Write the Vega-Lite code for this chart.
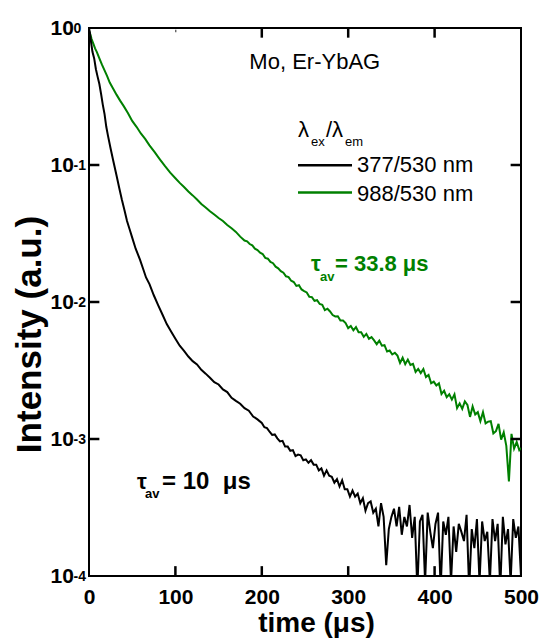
{
"$schema": "https://vega.github.io/schema/vega-lite/v6.json",
"width": 432, "height": 548,
"autosize": {"type": "none"},
"padding": {"left": 89, "top": 28, "right": 18, "bottom": 64},
"background": "white",
"config": {"view": {"stroke": "black", "strokeWidth": 2}, "font": "Liberation Sans",
  "axis": {"grid": false, "domain": false, "tickColor": "black", "labelColor": "black", "titleColor": "black"}},
"data": {"values": [{}]},
"datasets": {
"ex377": [
{"t":0,"v":1},{"t":1,"v":0.93},{"t":2,"v":0.82},{"t":3,"v":0.74},{"t":4,"v":0.67},{"t":6,"v":0.6},{"t":8,"v":0.5},{"t":10,"v":0.44},{"t":12,"v":0.39},{"t":14,"v":0.33},{"t":16,"v":0.275},{"t":18,"v":0.235},{"t":20,"v":0.19},{"t":22,"v":0.163},{"t":25,"v":0.132},{"t":28,"v":0.108},{"t":32,"v":0.083},{"t":35,"v":0.068},{"t":38,"v":0.056},{"t":41,"v":0.047},{"t":44,"v":0.039},{"t":47,"v":0.034},{"t":50,"v":0.0295},{"t":54,"v":0.0245},{"t":59,"v":0.0204},{"t":63,"v":0.0172},{"t":66,"v":0.0151},{"t":70,"v":0.0135},{"t":75,"v":0.0112},{"t":80,"v":0.0095},{"t":85,"v":0.0081},{"t":90,"v":0.0069},{"t":95,"v":0.0061},{"t":100,"v":0.0054},{"t":105,"v":0.0048},{"t":110,"v":0.0044},{"t":115,"v":0.004},{"t":120,"v":0.0037},{"t":125,"v":0.0035},{"t":130,"v":0.0032},{"t":135,"v":0.003},{"t":140,"v":0.0028},{"t":145,"v":0.0026},{"t":150,"v":0.0025},{"t":155,"v":0.0023},{"t":160,"v":0.0022},{"t":165,"v":0.002},{"t":170,"v":0.0019},{"t":175,"v":0.00181},{"t":180,"v":0.00168},{"t":185,"v":0.00161},{"t":190,"v":0.00146},{"t":195,"v":0.00139},
{"t":200,"v":1.31e-3},{"t":203,"v":1.22e-3},{"t":206,"v":1.2e-3},{"t":209,"v":1.13e-3},{"t":212,"v":1.07e-3},{"t":215,"v":1.08e-3},{"t":218,"v":1.01e-3},{"t":221,"v":9.6e-4},{"t":224,"v":9.7e-4},{"t":227,"v":8.8e-4},{"t":230,"v":8.8e-4},{"t":233,"v":8.2e-4},{"t":236,"v":8.3e-4},{"t":239,"v":7.5e-4},{"t":242,"v":7.7e-4},{"t":245,"v":7.6e-4},{"t":248,"v":7.0e-4},{"t":251,"v":7.1e-4},{"t":254,"v":6.7e-4},{"t":257,"v":7.0e-4},{"t":260,"v":6.5e-4},{"t":263,"v":6.5e-4},{"t":266,"v":5.9e-4},{"t":269,"v":6.1e-4},{"t":272,"v":5.4e-4},{"t":275,"v":5.9e-4},{"t":278,"v":5.4e-4},{"t":281,"v":5.3e-4},{"t":284,"v":4.8e-4},{"t":287,"v":5.1e-4},{"t":290,"v":4.5e-4},{"t":293,"v":5.0e-4},{"t":296,"v":4.3e-4},{"t":299,"v":4.3e-4},{"t":302,"v":3.8e-4},{"t":305,"v":4.2e-4},{"t":308,"v":3.8e-4},{"t":311,"v":4.0e-4},{"t":314,"v":3.4e-4},{"t":317,"v":3.7e-4},{"t":320,"v":3.0e-4},{"t":323,"v":3.4e-4},{"t":326,"v":3.5e-4},{"t":329,"v":2.9e-4},{"t":332,"v":3.1e-4},{"t":335,"v":2.3e-4},{"t":338,"v":3.4e-4},{"t":341,"v":2.7e-4},{"t":344,"v":1.2e-4},{"t":347,"v":2.2e-4},{"t":350,"v":2.7e-4},{"t":353,"v":3.1e-4},{"t":356,"v":2.3e-4},{"t":359,"v":3.2e-4},{"t":362,"v":2.0e-4},{"t":365,"v":2.7e-4},{"t":368,"v":2.3e-4},{"t":371,"v":3.3e-4},{"t":374,"v":1.9e-4},{"t":377,"v":2.7e-4},{"t":380,"v":8e-5},{"t":383,"v":2.5e-4},{"t":386,"v":2.8e-4},{"t":389,"v":9e-5},{"t":392,"v":2.9e-4},{"t":395,"v":2.1e-4},{"t":398,"v":1.6e-4},{"t":401,"v":2.4e-4},{"t":404,"v":2.9e-4},{"t":407,"v":8e-5},{"t":410,"v":2.5e-4},{"t":413,"v":2.0e-4},{"t":416,"v":2.7e-4},{"t":419,"v":9e-5},{"t":422,"v":2.3e-4},{"t":425,"v":1.5e-4},{"t":428,"v":2.4e-4},{"t":431,"v":2.1e-4},{"t":434,"v":1.8e-4},{"t":437,"v":2.8e-4},{"t":440,"v":8e-5},{"t":443,"v":2.2e-4},{"t":446,"v":1.6e-4},{"t":449,"v":2.6e-4},{"t":452,"v":9e-5},{"t":455,"v":2.5e-4},{"t":458,"v":1.8e-4},{"t":461,"v":2.1e-4},{"t":464,"v":9e-5},{"t":467,"v":2.6e-4},{"t":470,"v":1.8e-4},{"t":473,"v":2.4e-4},{"t":476,"v":8e-5},{"t":479,"v":2.7e-4},{"t":482,"v":1.7e-4},{"t":485,"v":2.2e-4},{"t":488,"v":9e-5},{"t":491,"v":2.6e-4},{"t":494,"v":1.9e-4},{"t":497,"v":2.3e-4},{"t":500,"v":1.0e-4}
],
"ex988": [
{"t":0,"v":0.95},{"t":1,"v":0.92},{"t":3,"v":0.83},{"t":5,"v":0.77},{"t":7,"v":0.71},{"t":9,"v":0.67},{"t":12,"v":0.6},{"t":15,"v":0.54},{"t":18,"v":0.49},{"t":21,"v":0.445},{"t":24,"v":0.4},{"t":28,"v":0.36},{"t":32,"v":0.325},{"t":36,"v":0.295},{"t":40,"v":0.27},{"t":45,"v":0.24},{"t":50,"v":0.21},{"t":55,"v":0.19},{"t":60,"v":0.17},{"t":65,"v":0.155},{"t":70,"v":0.139},{"t":76,"v":0.124},{"t":82,"v":0.11},{"t":88,"v":0.098},{"t":94,"v":0.088},{"t":100,"v":0.08},{"t":105,"v":0.074},{"t":110,"v":0.069},{"t":115,"v":0.064},{"t":120,"v":0.06},{"t":125,"v":0.056},{"t":130,"v":0.052},{"t":135,"v":0.049},{"t":140,"v":0.046},{"t":145,"v":0.0435},{"t":150,"v":0.041},{"t":155,"v":0.039},{"t":160,"v":0.0365},{"t":165,"v":0.0345},{"t":170,"v":0.0325},{"t":175,"v":0.03},
{"t":180,"v":2.81e-2},{"t":183,"v":2.77e-2},{"t":186,"v":2.65e-2},{"t":189,"v":2.59e-2},{"t":192,"v":2.45e-2},{"t":195,"v":2.39e-2},{"t":198,"v":2.29e-2},{"t":201,"v":2.24e-2},{"t":204,"v":2.1e-2},{"t":207,"v":2.07e-2},{"t":210,"v":1.96e-2},{"t":213,"v":1.92e-2},{"t":216,"v":1.81e-2},{"t":219,"v":1.76e-2},{"t":222,"v":1.68e-2},{"t":225,"v":1.635e-2},{"t":228,"v":1.54e-2},{"t":231,"v":1.52e-2},{"t":234,"v":1.43e-2},{"t":237,"v":1.4e-2},{"t":240,"v":1.31e-2},{"t":243,"v":1.325e-2},{"t":246,"v":1.235e-2},{"t":249,"v":1.2e-2},{"t":252,"v":1.174e-2},{"t":255,"v":1.093e-2},{"t":258,"v":1.086e-2},{"t":261,"v":1.021e-2},{"t":264,"v":1.031e-2},{"t":267,"v":9.67e-3},{"t":270,"v":9.54e-3},{"t":273,"v":8.73e-3},{"t":276,"v":8.93e-3},{"t":279,"v":8.53e-3},{"t":282,"v":8.03e-3},{"t":285,"v":7.85e-3},{"t":288,"v":7.88e-3},{"t":291,"v":7.34e-3},{"t":294,"v":7.33e-3},{"t":297,"v":7.02e-3},{"t":300,"v":6.45e-3},{"t":303,"v":6.68e-3},{"t":306,"v":6.21e-3},{"t":309,"v":6.56e-3},{"t":312,"v":6.01e-3},{"t":315,"v":6.01e-3},{"t":318,"v":5.57e-3},{"t":321,"v":5.85e-3},{"t":324,"v":5.39e-3},{"t":327,"v":5.54e-3},{"t":330,"v":5.25e-3},{"t":333,"v":4.92e-3},{"t":336,"v":5.23e-3},{"t":339,"v":4.8e-3},{"t":342,"v":4.84e-3},{"t":345,"v":4.35e-3},{"t":348,"v":4.42e-3},{"t":351,"v":4.14e-3},{"t":354,"v":4.26e-3},{"t":357,"v":4.06e-3},{"t":360,"v":3.59e-3},{"t":363,"v":3.92e-3},{"t":366,"v":3.52e-3},{"t":369,"v":3.8e-3},{"t":372,"v":3.47e-3},{"t":375,"v":3.54e-3},{"t":378,"v":3.09e-3},{"t":381,"v":3.25e-3},{"t":384,"v":3.03e-3},{"t":387,"v":3.24e-3},{"t":390,"v":2.83e-3},{"t":393,"v":2.93e-3},{"t":396,"v":2.55e-3},{"t":399,"v":2.62e-3},{"t":402,"v":2.46e-3},{"t":405,"v":2.55e-3},{"t":408,"v":2.13e-3},{"t":411,"v":2.25e-3},{"t":414,"v":2.02e-3},{"t":417,"v":2.12e-3},{"t":420,"v":1.94e-3},{"t":423,"v":2.12e-3},{"t":426,"v":1.68e-3},{"t":429,"v":1.82e-3},{"t":432,"v":1.66e-3},{"t":435,"v":1.88e-3},{"t":438,"v":1.77e-3},{"t":441,"v":1.45e-3},{"t":444,"v":1.73e-3},{"t":447,"v":1.51e-3},{"t":450,"v":1.57e-3},{"t":453,"v":1.35e-3},{"t":456,"v":1.57e-3},{"t":459,"v":1.3e-3},{"t":462,"v":1.34e-3},{"t":465,"v":1.35e-3},{"t":468,"v":1.1e-3},{"t":471,"v":1.14e-3},{"t":474,"v":1.29e-3},{"t":477,"v":9.9e-4},{"t":480,"v":1.12e-3},{"t":483,"v":8.9e-4},{"t":486,"v":4.9e-4},{"t":489,"v":1.09e-3},{"t":492,"v":8.5e-4},{"t":495,"v":9.5e-4},{"t":498,"v":8.3e-4},{"t":500,"v":8.6e-4}
]
},
"layer": [
{"data": {"name": "ex988"}, "mark": {"type": "line", "color": "#008000", "strokeWidth": 2, "clip": true},
 "encoding": {
  "x": {"field": "t", "type": "quantitative", "scale": {"domain": [0, 500], "nice": false, "zero": false},
    "axis": {"orient": "bottom", "values": [0,100,200,300,400,500], "ticks": false, "labelFontSize": 21, "labelFontWeight": "bold", "labelPadding": 10, "labelFlush": false, "format": "d",
      "title": "time (μs)", "titleFontSize": 28, "titleFontWeight": "bold", "titleX": 227, "titleY": 55, "titleAlign": "center", "titleBaseline": "alphabetic"}},
  "y": {"field": "v", "type": "quantitative", "scale": {"type": "log", "domain": [0.0001, 1], "nice": false},
    "axis": {"orient": "left", "values": [1,0.1,0.01,0.001,0.0001], "ticks": false, "labelExpr": "'10'", "labelFontSize": 21, "labelFontWeight": "bold", "labelAlign": "left", "labelBaseline": "middle", "labelPadding": 39,
      "title": "Intensity (a.u.)", "titleFontSize": 35, "titleFontWeight": "bold", "titleAngle": 270, "titleX": -60, "titleY": 306, "titleAlign": "center", "titleBaseline": "middle"}}
 }},
{"data": {"name": "ex377"}, "mark": {"type": "line", "color": "black", "strokeWidth": 2, "clip": true},
 "encoding": {
  "x": {"field": "t", "type": "quantitative", "scale": {"domain": [0, 500], "nice": false, "zero": false}, "axis": null},
  "y": {"field": "v", "type": "quantitative", "scale": {"type": "log", "domain": [0.0001, 1], "nice": false},
    "axis": {"orient": "left", "values": [1,0.1,0.01,0.001,0.0001], "ticks": false, "labelExpr": "'' + round(log(datum.value)/LN10)", "labelFontSize": 14, "labelFontWeight": "bold", "labelAlign": "left", "labelBaseline": "middle", "labelPadding": 16, "labelDy": -6, "title": null}}
 }},
{"mark": {"type": "rule", "color": "black", "strokeWidth": 2.5},
 "encoding": {"x": {"datum": 241.9, "type": "quantitative", "axis": null, "scale": {"domain": [0, 500], "nice": false, "zero": false}}, "x2": {"datum": 304.4}, "y": {"datum": 0.0997, "type": "quantitative", "axis": null, "scale": {"type": "log", "domain": [0.0001, 1], "nice": false}}}},
{"mark": {"type": "rule", "color": "#008000", "strokeWidth": 2.5},
 "encoding": {"x": {"datum": 241.9, "type": "quantitative", "axis": null, "scale": {"domain": [0, 500], "nice": false, "zero": false}}, "x2": {"datum": 304.4}, "y": {"datum": 0.063, "type": "quantitative", "axis": null, "scale": {"type": "log", "domain": [0.0001, 1], "nice": false}}}},
{"mark": {"type": "rule", "color": "black", "strokeWidth": 2.5},
 "encoding": {"x": {"datum": 100, "type": "quantitative", "axis": null, "scale": {"domain": [0, 500], "nice": false, "zero": false}}, "x2": {"datum": 101}, "y": {"datum": 0.95, "type": "quantitative", "axis": null, "scale": {"type": "log", "domain": [0.0001, 1], "nice": false}}}},
{"mark": {"type": "rule", "color": "black", "strokeWidth": 2.5},
 "encoding": {"x": {"datum": 200, "type": "quantitative", "axis": null, "scale": {"domain": [0, 500], "nice": false, "zero": false}}, "y": {"datum": 1, "type": "quantitative", "axis": null, "scale": {"type": "log", "domain": [0.0001, 1], "nice": false}}, "y2": {"datum": 0.85}}},
{"mark": {"type": "rule", "color": "black", "strokeWidth": 2.5},
 "encoding": {"x": {"datum": 300, "type": "quantitative", "axis": null, "scale": {"domain": [0, 500], "nice": false, "zero": false}}, "y": {"datum": 1, "type": "quantitative", "axis": null, "scale": {"type": "log", "domain": [0.0001, 1], "nice": false}}, "y2": {"datum": 0.85}}},
{"mark": {"type": "rule", "color": "black", "strokeWidth": 2.5},
 "encoding": {"x": {"datum": 400, "type": "quantitative", "axis": null, "scale": {"domain": [0, 500], "nice": false, "zero": false}}, "y": {"datum": 1, "type": "quantitative", "axis": null, "scale": {"type": "log", "domain": [0.0001, 1], "nice": false}}, "y2": {"datum": 0.85}}},
{"mark": {"type": "rule", "color": "black", "strokeWidth": 2.5},
 "encoding": {"x": {"datum": 100, "type": "quantitative", "axis": null, "scale": {"domain": [0, 500], "nice": false, "zero": false}}, "y": {"datum": 0.0001, "type": "quantitative", "axis": null, "scale": {"type": "log", "domain": [0.0001, 1], "nice": false}}, "y2": {"datum": 0.000118}}},
{"mark": {"type": "rule", "color": "black", "strokeWidth": 2.5},
 "encoding": {"x": {"datum": 200, "type": "quantitative", "axis": null, "scale": {"domain": [0, 500], "nice": false, "zero": false}}, "y": {"datum": 0.0001, "type": "quantitative", "axis": null, "scale": {"type": "log", "domain": [0.0001, 1], "nice": false}}, "y2": {"datum": 0.000118}}},
{"mark": {"type": "rule", "color": "black", "strokeWidth": 2.5},
 "encoding": {"x": {"datum": 300, "type": "quantitative", "axis": null, "scale": {"domain": [0, 500], "nice": false, "zero": false}}, "y": {"datum": 0.0001, "type": "quantitative", "axis": null, "scale": {"type": "log", "domain": [0.0001, 1], "nice": false}}, "y2": {"datum": 0.000118}}},
{"mark": {"type": "rule", "color": "black", "strokeWidth": 2.5},
 "encoding": {"x": {"datum": 400, "type": "quantitative", "axis": null, "scale": {"domain": [0, 500], "nice": false, "zero": false}}, "y": {"datum": 0.0001, "type": "quantitative", "axis": null, "scale": {"type": "log", "domain": [0.0001, 1], "nice": false}}, "y2": {"datum": 0.000118}}},
{"mark": {"type": "rule", "color": "black", "strokeWidth": 2.5},
 "encoding": {"x": {"datum": 0, "type": "quantitative", "axis": null, "scale": {"domain": [0, 500], "nice": false, "zero": false}}, "x2": {"datum": 12}, "y": {"datum": 0.1, "type": "quantitative", "axis": null, "scale": {"type": "log", "domain": [0.0001, 1], "nice": false}}}},
{"mark": {"type": "rule", "color": "black", "strokeWidth": 2.5},
 "encoding": {"x": {"datum": 0, "type": "quantitative", "axis": null, "scale": {"domain": [0, 500], "nice": false, "zero": false}}, "x2": {"datum": 12}, "y": {"datum": 0.01, "type": "quantitative", "axis": null, "scale": {"type": "log", "domain": [0.0001, 1], "nice": false}}}},
{"mark": {"type": "rule", "color": "black", "strokeWidth": 2.5},
 "encoding": {"x": {"datum": 0, "type": "quantitative", "axis": null, "scale": {"domain": [0, 500], "nice": false, "zero": false}}, "x2": {"datum": 12}, "y": {"datum": 0.001, "type": "quantitative", "axis": null, "scale": {"type": "log", "domain": [0.0001, 1], "nice": false}}}},
{"mark": {"type": "rule", "color": "black", "strokeWidth": 2.5},
 "encoding": {"x": {"datum": 488, "type": "quantitative", "axis": null, "scale": {"domain": [0, 500], "nice": false, "zero": false}}, "x2": {"datum": 500}, "y": {"datum": 0.1, "type": "quantitative", "axis": null, "scale": {"type": "log", "domain": [0.0001, 1], "nice": false}}}},
{"mark": {"type": "rule", "color": "black", "strokeWidth": 2.5},
 "encoding": {"x": {"datum": 488, "type": "quantitative", "axis": null, "scale": {"domain": [0, 500], "nice": false, "zero": false}}, "x2": {"datum": 500}, "y": {"datum": 0.01, "type": "quantitative", "axis": null, "scale": {"type": "log", "domain": [0.0001, 1], "nice": false}}}},
{"mark": {"type": "rule", "color": "black", "strokeWidth": 2.5},
 "encoding": {"x": {"datum": 488, "type": "quantitative", "axis": null, "scale": {"domain": [0, 500], "nice": false, "zero": false}}, "x2": {"datum": 500}, "y": {"datum": 0.001, "type": "quantitative", "axis": null, "scale": {"type": "log", "domain": [0.0001, 1], "nice": false}}}},
{"mark": {"type": "text", "text": "Mo, Er-YbAG", "align": "right", "baseline": "alphabetic", "fontSize": 22, "color": "black"},
 "encoding": {"x": {"datum": 337, "type": "quantitative", "axis": null, "scale": {"domain": [0, 500], "nice": false, "zero": false}}, "y": {"datum": 0.498, "type": "quantitative", "axis": null, "scale": {"type": "log", "domain": [0.0001, 1], "nice": false}}}},
{"mark": {"type": "text", "text": "377/530 nm", "align": "left", "baseline": "alphabetic", "fontSize": 22, "color": "black"},
 "encoding": {"x": {"datum": 310.2, "type": "quantitative", "axis": null, "scale": {"domain": [0, 500], "nice": false, "zero": false}}, "y": {"datum": 0.0882, "type": "quantitative", "axis": null, "scale": {"type": "log", "domain": [0.0001, 1], "nice": false}}}},
{"mark": {"type": "text", "text": "988/530 nm", "align": "left", "baseline": "alphabetic", "fontSize": 22, "color": "black"},
 "encoding": {"x": {"datum": 310.2, "type": "quantitative", "axis": null, "scale": {"domain": [0, 500], "nice": false, "zero": false}}, "y": {"datum": 0.0542, "type": "quantitative", "axis": null, "scale": {"type": "log", "domain": [0.0001, 1], "nice": false}}}},
{"mark": {"type": "text", "text": "λ", "align": "left", "baseline": "alphabetic", "fontSize": 22, "color": "black"},
 "encoding": {"x": {"datum": 241.9, "type": "quantitative", "axis": null, "scale": {"domain": [0, 500], "nice": false, "zero": false}}, "y": {"datum": 0.159, "type": "quantitative", "axis": null, "scale": {"type": "log", "domain": [0.0001, 1], "nice": false}}}},
{"mark": {"type": "text", "text": "ex", "align": "left", "baseline": "alphabetic", "fontSize": 13, "dx": 13, "dy": 9, "color": "black"},
 "encoding": {"x": {"datum": 241.9, "type": "quantitative", "axis": null, "scale": {"domain": [0, 500], "nice": false, "zero": false}}, "y": {"datum": 0.159, "type": "quantitative", "axis": null, "scale": {"type": "log", "domain": [0.0001, 1], "nice": false}}}},
{"mark": {"type": "text", "text": "/", "align": "left", "baseline": "alphabetic", "fontSize": 22, "dx": 28, "color": "black"},
 "encoding": {"x": {"datum": 241.9, "type": "quantitative", "axis": null, "scale": {"domain": [0, 500], "nice": false, "zero": false}}, "y": {"datum": 0.159, "type": "quantitative", "axis": null, "scale": {"type": "log", "domain": [0.0001, 1], "nice": false}}}},
{"mark": {"type": "text", "text": "λ", "align": "left", "baseline": "alphabetic", "fontSize": 22, "dx": 34, "color": "black"},
 "encoding": {"x": {"datum": 241.9, "type": "quantitative", "axis": null, "scale": {"domain": [0, 500], "nice": false, "zero": false}}, "y": {"datum": 0.159, "type": "quantitative", "axis": null, "scale": {"type": "log", "domain": [0.0001, 1], "nice": false}}}},
{"mark": {"type": "text", "text": "em", "align": "left", "baseline": "alphabetic", "fontSize": 13, "dx": 47, "dy": 9, "color": "black"},
 "encoding": {"x": {"datum": 241.9, "type": "quantitative", "axis": null, "scale": {"domain": [0, 500], "nice": false, "zero": false}}, "y": {"datum": 0.159, "type": "quantitative", "axis": null, "scale": {"type": "log", "domain": [0.0001, 1], "nice": false}}}},
{"mark": {"type": "text", "text": "τ", "align": "left", "baseline": "alphabetic", "fontSize": 22, "fontWeight": "bold", "color": "#008000"},
 "encoding": {"x": {"datum": 256.9, "type": "quantitative", "axis": null, "scale": {"domain": [0, 500], "nice": false, "zero": false}}, "y": {"datum": 0.0167, "type": "quantitative", "axis": null, "scale": {"type": "log", "domain": [0.0001, 1], "nice": false}}}},
{"mark": {"type": "text", "text": "av", "align": "left", "baseline": "alphabetic", "fontSize": 13, "fontWeight": "bold", "dx": 9, "dy": 10, "color": "#008000"},
 "encoding": {"x": {"datum": 256.9, "type": "quantitative", "axis": null, "scale": {"domain": [0, 500], "nice": false, "zero": false}}, "y": {"datum": 0.0167, "type": "quantitative", "axis": null, "scale": {"type": "log", "domain": [0.0001, 1], "nice": false}}}},
{"mark": {"type": "text", "text": "= 33.8 μs", "align": "left", "baseline": "alphabetic", "fontSize": 22, "fontWeight": "bold", "dx": 24, "color": "#008000"},
 "encoding": {"x": {"datum": 256.9, "type": "quantitative", "axis": null, "scale": {"domain": [0, 500], "nice": false, "zero": false}}, "y": {"datum": 0.0167, "type": "quantitative", "axis": null, "scale": {"type": "log", "domain": [0.0001, 1], "nice": false}}}},
{"mark": {"type": "text", "text": "τ", "align": "left", "baseline": "alphabetic", "fontSize": 22, "fontWeight": "bold", "color": "black"},
 "encoding": {"x": {"datum": 55.6, "type": "quantitative", "axis": null, "scale": {"domain": [0, 500], "nice": false, "zero": false}}, "y": {"datum": 0.000428, "type": "quantitative", "axis": null, "scale": {"type": "log", "domain": [0.0001, 1], "nice": false}}}},
{"mark": {"type": "text", "text": "av", "align": "left", "baseline": "alphabetic", "fontSize": 13, "fontWeight": "bold", "dx": 8, "dy": 9, "color": "black"},
 "encoding": {"x": {"datum": 55.6, "type": "quantitative", "axis": null, "scale": {"domain": [0, 500], "nice": false, "zero": false}}, "y": {"datum": 0.000428, "type": "quantitative", "axis": null, "scale": {"type": "log", "domain": [0.0001, 1], "nice": false}}}},
{"mark": {"type": "text", "text": "= 10\u00a0 μs", "align": "left", "baseline": "alphabetic", "fontSize": 24, "fontWeight": "bold", "dx": 25, "color": "black"},
 "encoding": {"x": {"datum": 55.6, "type": "quantitative", "axis": null, "scale": {"domain": [0, 500], "nice": false, "zero": false}}, "y": {"datum": 0.000428, "type": "quantitative", "axis": null, "scale": {"type": "log", "domain": [0.0001, 1], "nice": false}}}}
],
"resolve": {"axis": {"x": "independent", "y": "independent"}}
}
